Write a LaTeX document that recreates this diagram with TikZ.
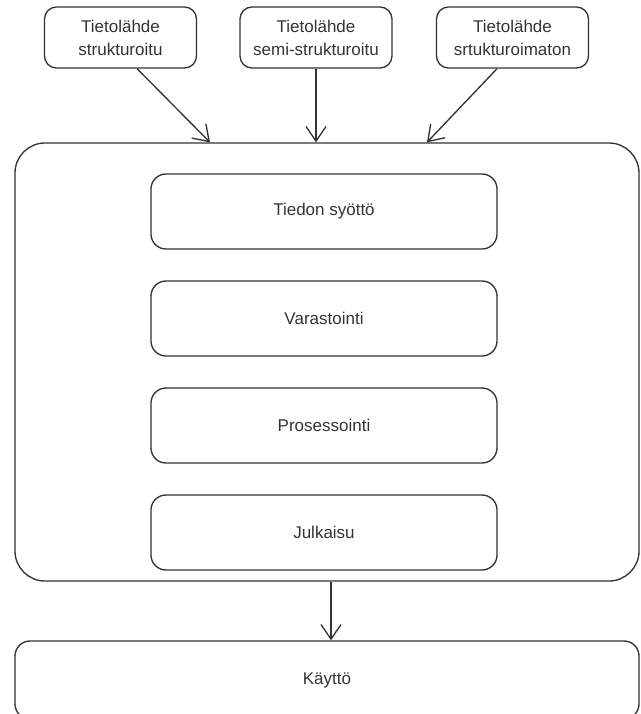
\documentclass[tikz,border=0pt]{standalone}
\usepackage{fontspec}
\setmainfont{Liberation Sans}
\usetikzlibrary{arrows.meta,positioning}
\definecolor{ink}{HTML}{333333}

\begin{document}
\begin{tikzpicture}
  [x=0.75pt, y=-0.75pt,
  every node/.style={draw=ink, line width=1pt, align=center, text=ink,
    font=\fontsize{12.75}{17.25}\selectfont},
  src/.style={minimum width=114pt, minimum height=45.75pt, rounded corners=9pt},
  stage/.style={minimum width=259.5pt, minimum height=56.25pt, rounded corners=11.25pt},
  frame/.style={minimum width=468pt, minimum height=328.5pt, rounded corners=22.5pt},
 ]
  \tikzstyle{flow}=[draw=ink, line width=1pt, -{Straight Barb[length=11pt,width=15pt]}]
  \useasboundingbox (0,0) rectangle (640,714);
% sources
\node[src] (src1) at (120.5,37.5) {Tietolähde\\strukturoitu};
\node[src] (src2) at (316,37.5) {Tietolähde\\semi-strukturoitu};
\node[src] (src3) at (512.5,37.5) {Tietolähde\\srtukturoimaton};
% system
\node[frame] (frame) at (327,362) {};
\node[stage] (s1) at (324,211.5) {Tiedon syöttö};
\node[stage, below=23pt of s1] (s2) {Varastointi};
\node[stage, below=23pt of s2] (s3) {Prosessointi};
\node[stage, below=23pt of s3] (s4) {Julkaisu};
% use
\node[frame, minimum height=58.5pt, rounded corners=11.25pt] (kaytto) at (327,680) {Käyttö};

\draw[flow] ([xshift=12.4pt]src1.south) -- ([xshift=-87.75pt]frame.north);
\draw[flow] (src2.south) -- (src2.south |- frame.north);
\draw[flow] ([xshift=-11.6pt]src3.south) -- ([xshift=75pt]frame.north);
\draw[flow] ([xshift=3pt]frame.south) -- ([xshift=3pt]kaytto.north);
\end{tikzpicture}
\end{document}
